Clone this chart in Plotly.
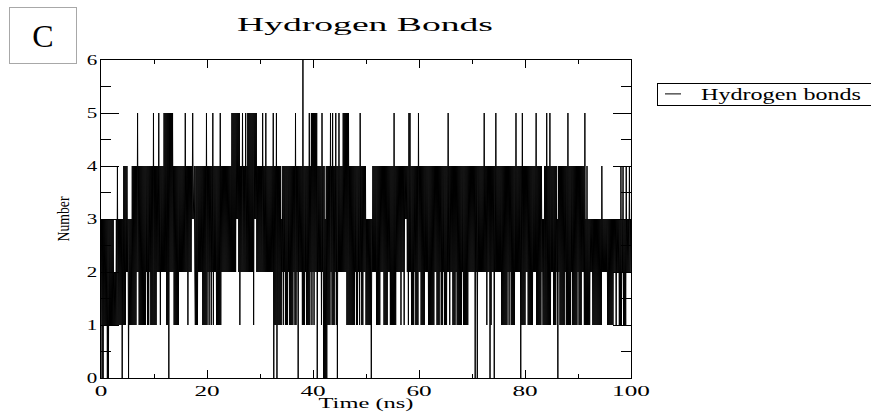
import plotly.graph_objects as go

# Number of hydrogen bonds per frame (one digit per 0.1 ns frame)
TIME_STEP_NS = 0.1
hb_000_010 = ("1303031313" "1303031313" "1313121213" "1413131313" "0314141424"
              "2303131314" "1414141425" "2414141414" "1414142414" "1424141415")
hb_010_020 = ("1414142425" "2414242425" "2525151505" "2525252414" "1414141424"
              "2424242425" "2424142424" "2435344214" "1414242424" "2414141415")
hb_020_030 = ("1424142414" "2514242414" "1414151424" "2424242424" "2424242525"
              "2525253535" "2514242524" "2425242525" "2525252515" "3535242424")
hb_030_040 = ("2424252424" "2524242424" "2424250414" "1504141414" "1324142414"
              "1414241414" "1414241514" "2404242424" "1614142414" "1415142515")
hb_040_050 = ("2515252504" "2424241524" "0403040414" "1415241514" "1425140425"
              "2424242525" "2525151514" "1414141414" "2414142415" "2414142424")
hb_050_060 = ("1313131313" "0324242424" "1414141424" "2424141414" "1424241414"
              "1415141424" "2424241424" "2414343424" "1525241414" "1424141415")
hb_060_070 = ("2424141414" "1424242414" "1414141414" "2424141414" "2414142414"
              "1414252414" "2424141414" "2414141414" "1424141414" "1414242424")
hb_070_080 = ("2424240424" "0424242424" "2425242414" "2424041424" "2404252424"
              "2424241414" "1414141424" "1424141414" "1425242424" "2404151414")
hb_080_090 = ("1424241414" "1414142424" "2514141414" "1423131414" "1514141514"
              "2424141414" "2304241414" "1414142414" "1514141424" "1414141414")
hb_090_100 = ("2414141424" "2415131413" "1313232313" "1313131313" "1313142323"
              "2323231313" "1313131323" "2313232313" "1413241313" "1423232423"
              "2")

series_name = "Hydrogen bonds"
chart_title = "Hydrogen Bonds"
x_title = "Time (ns)"
y_title = "Number"
panel_label = "C"
x_ticks = [0, 20, 40, 60, 80, 100]
y_ticks = [0, 1, 2, 3, 4, 5, 6]

digits = (hb_000_010 + hb_010_020 + hb_020_030 + hb_030_040 + hb_040_050 +
          hb_050_060 + hb_060_070 + hb_070_080 + hb_080_090 + hb_090_100)
values = [int(c) for c in digits]
times = [round(i * TIME_STEP_NS, 1) for i in range(len(values))]

FONT = "Liberation Serif"
W, H = 871, 412
L, R, T, B = 101, 240, 60, 34

fig = go.Figure()
fig.add_trace(go.Scatter(
    x=times, y=values, mode="lines", name=series_name,
    line=dict(color="black", width=1), showlegend=True, hoverinfo="skip",
))

axis_common = dict(
    showline=True, linecolor="black", linewidth=1, mirror="allticks",
    ticks="inside", tickcolor="black", tickwidth=1,
    showgrid=False, zeroline=False,
    tickfont=dict(family=FONT, size=14, color="black"),
)

fig.update_layout(
    width=W, height=H,
    margin=dict(l=L, r=R, t=T, b=B, autoexpand=False),
    paper_bgcolor="white", plot_bgcolor="white",
    title=dict(text=chart_title, x=365 / W, xref="container", xanchor="center",
               y=1 - 24 / H, yref="container", yanchor="middle",
               font=dict(family=FONT, size=19, color="black")),
    xaxis=dict(range=[0, 100], tickvals=x_ticks, ticklen=8,
               minor=dict(ticks="inside", dtick=10, ticklen=4, tickcolor="black"),
               title=dict(text=x_title, standoff=0,
                          font=dict(family=FONT, size=14, color="black")),
               automargin=False, **axis_common),
    yaxis=dict(range=[0, 6], tickvals=y_ticks, ticklen=18,
               minor=dict(ticks="inside", dtick=0.5, ticklen=10, tickcolor="black"),
               title=dict(text=y_title, standoff=16,
                          font=dict(family=FONT, size=17, color="black")),
               automargin=False, **axis_common),
    showlegend=True,
    legend=dict(x=657 / W, xref="container", xanchor="left",
                y=1 - 82.5 / H, yref="container", yanchor="top",
                bgcolor="white", bordercolor="black", borderwidth=1,
                font=dict(family=FONT, size=16, color="black")),
    annotations=[dict(
        text=panel_label, xref="paper", yref="paper",
        x=(43 - L) / (W - L - R), y=(H - B - 35.5) / (H - T - B),
        xanchor="center", yanchor="middle", showarrow=False,
        width=64, height=53, bgcolor="white", bordercolor="#a8a8a8", borderwidth=1,
        font=dict(family=FONT, size=32, color="black"),
    )],
)

POST = """
var gd = document.getElementById('{plot_id}');
function fit(sel, mode, val){
  gd.querySelectorAll(sel).forEach(function(t){
    var w = t.getComputedTextLength();
    if (!w) return;
    var len = (mode === 'px') ? val : w * val;
    t.setAttribute('textLength', len.toFixed(1));
    t.setAttribute('lengthAdjust', 'spacingAndGlyphs');
  });
}
fit('text.gtitle', 'px', 256);
fit('text.legendtext', 'px', 160);
fit('text.xtitle', 'px', 95);
fit('text.ytitle', 'px', 45);
fit('g.xtick text', 'k', 1.8);
fit('g.ytick text', 'k', 1.5);
var leg = gd.querySelector('g.legend');
if (leg) {
  leg.querySelectorAll('[clip-path]').forEach(function(e){ e.removeAttribute('clip-path'); });
  var bg = leg.querySelector('rect.bg');
  var sb = leg.querySelector('g.scrollbox');
  if (bg) {
    var oh = parseFloat(bg.getAttribute('height')) || 22;
    var dy = (22 - oh) / 2;
    bg.setAttribute('width', 300);
    bg.setAttribute('height', 22);
    if (sb) sb.setAttribute('transform', (sb.getAttribute('transform') || '') + ' translate(0,' + dy + ')');
  }
  leg.querySelectorAll('g.legendlines path').forEach(function(p){ p.setAttribute('d', 'M7,0h16'); });
  leg.querySelectorAll('text.legendtext').forEach(function(t){ t.setAttribute('x', 43); });
}
"""

fig.write_html("out.html", post_script=POST)
